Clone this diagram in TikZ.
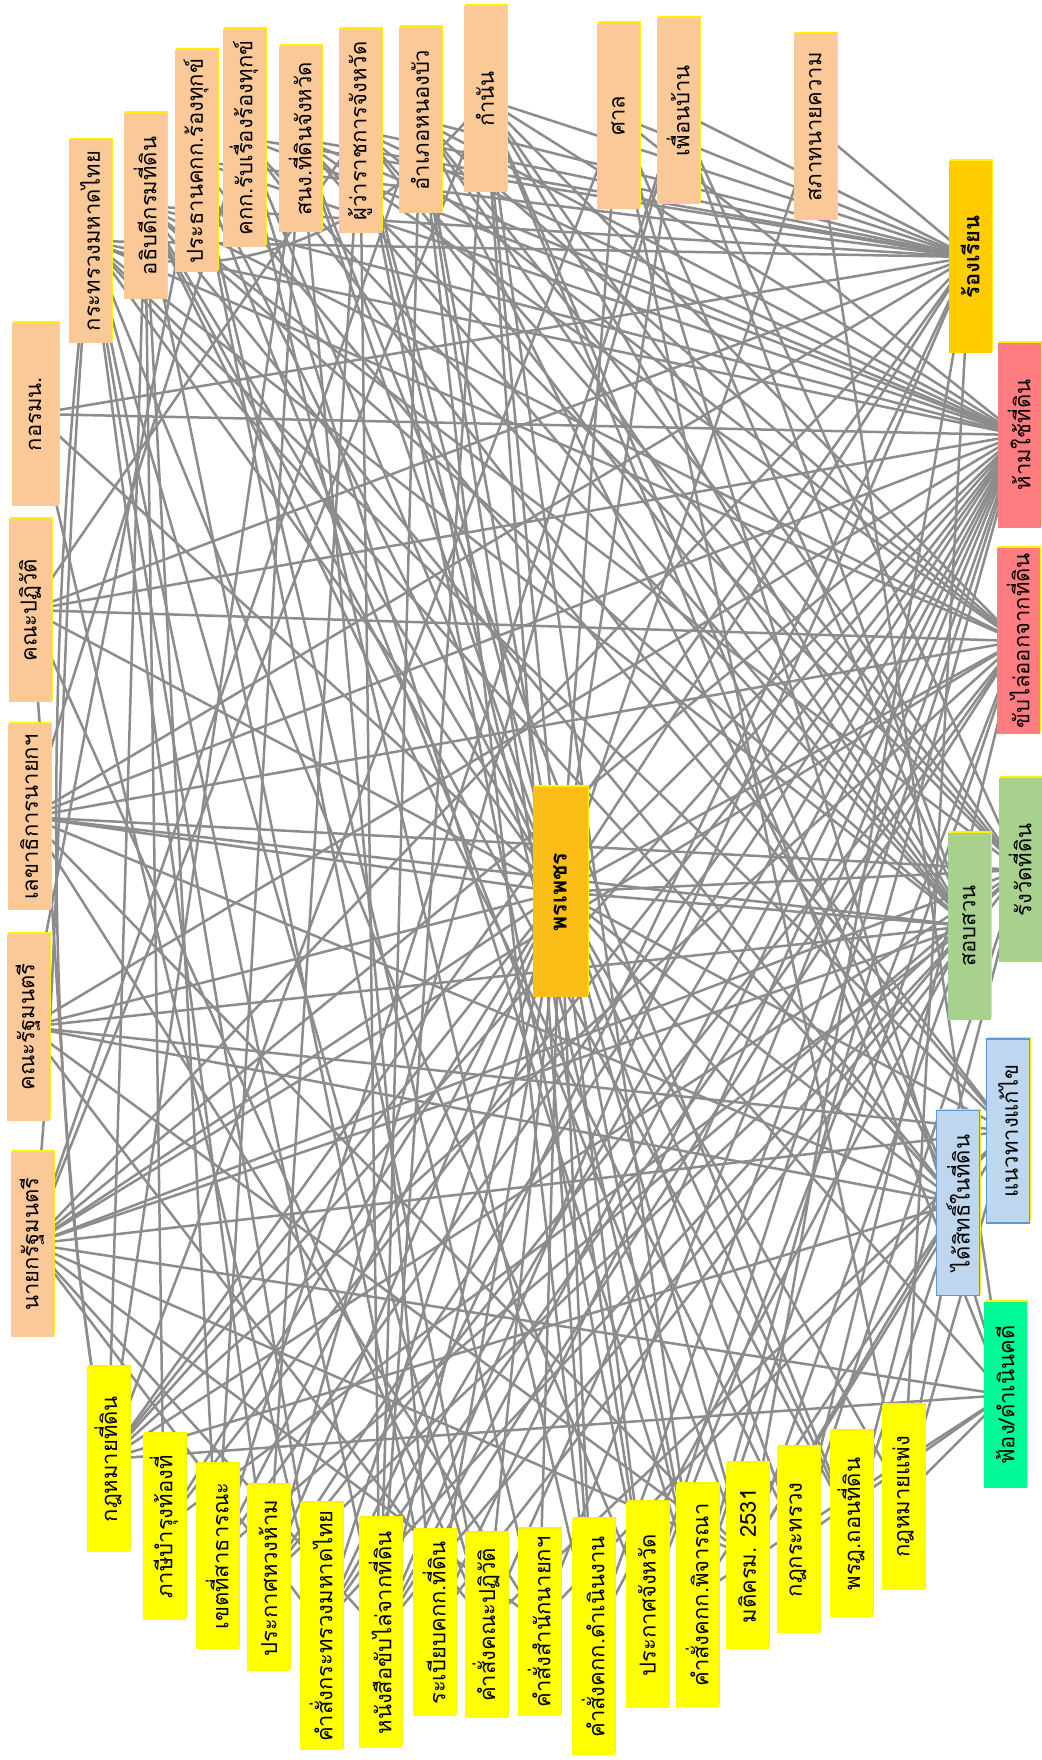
\documentclass[tikz,border=0pt]{standalone}
\usepackage{fontspec}
\newfontfamily\thaifont[Script=Thai]{Loma}
\usetikzlibrary{shadows}
\definecolor{peach}{RGB}{251,201,151}
\definecolor{ylw}{RGB}{255,255,0}
\definecolor{goldc}{RGB}{255,204,0}
\definecolor{centc}{RGB}{250,190,22}
\definecolor{salmon}{RGB}{255,124,128}
\definecolor{lgreen}{RGB}{169,209,142}
\definecolor{lblue}{RGB}{190,214,238}
\definecolor{bblue}{RGB}{91,155,213}
\definecolor{sgreen}{RGB}{0,250,150}
\definecolor{edgec}{RGB}{140,140,140}
\pgfdeclarelayer{bg}
\pgfsetlayers{bg,main}
\tikzset{
  nbox/.style={rectangle, rotate=90, minimum height=43pt, minimum width=#1, inner sep=0pt,
    font=\thaifont\fontsize{22}{24}\selectfont, text=black,
    drop shadow={shadow xshift=1.6pt, shadow yshift=1.6pt, fill=yellow, opacity=1}},
  nbox/.default=186pt,
  orng/.style={nbox=#1, fill=peach}, orng/.default=186pt,
  ybox/.style={nbox=#1, fill=ylw}, ybox/.default=186pt,
  redb/.style={nbox=#1, fill=salmon}, redb/.default=186pt,
  grnb/.style={nbox=#1, fill=lgreen}, grnb/.default=186pt,
  blub/.style={nbox=#1, fill=lblue, draw=bblue, line width=1.2pt}, blub/.default=186pt,
  edge/.style={draw=edgec, line width=2.5pt},
}
\begin{document}
\begin{tikzpicture}[x=1pt,y=-1pt]
\useasboundingbox (0,0) rectangle (1041,1760);
% left column
\node[orng=183pt, minimum height=47pt] (L1) at (35,414) {กอรมน.};
\node[orng=183pt] (L2) at (30,610) {คณะปฏิวัติ};
\node[orng=186pt] (L3) at (29,817) {เลขาธิการนายกฯ};
\node[orng=187pt] (L4) at (28,1027) {คณะรัฐมนตรี};
\node[orng=185pt] (L5) at (32,1244) {นายกรัฐมนตรี};
% top row
\node[orng=203pt] (T1) at (90,241) {กระทรวงมหาดไทย};
\node[orng=186pt] (T2) at (145,206) {อธิบดีกรมที่ดิน};
\node[orng=222pt] (T3) at (196,161) {ประธานคกก.ร้องทุกข์};
\node[orng=218pt] (T4) at (244,138) {คกก.รับเรื่องร้องทุกข์};
\node[orng=186pt] (T5) at (300,139) {สนง.ที่ดินจังหวัด};
\node[orng=204pt] (T6) at (360,131) {ผู้ว่าราชการจังหวัด};
\node[orng=186pt] (T7) at (420,120) {อำเภอหนองบัว};
\node[orng=186pt] (T8) at (485,99) {กำนัน};
\node[orng=186pt] (T9) at (618,116) {ศาล};
\node[orng=186pt] (T10) at (678,111) {เพื่อนบ้าน};
\node[orng=187pt] (T11) at (815,127) {สภาทนายความ};
% right column
\node[nbox=192pt, fill=goldc, font=\thaifont\bfseries\fontsize{22}{24}\selectfont] (R1) at (970,257) {ร้องเรียน};
\node[redb=185pt] (R2) at (1019,435) {ห้ามใช้ที่ดิน};
\node[redb=186pt] (R3) at (1018,641) {ขับไล่ออกจากที่ดิน};
\node[grnb=184pt] (R4) at (1020,870) {รังวัดที่ดิน};
\node[grnb=187pt] (R5) at (969,926) {สอบสวน};
\node[blub=184pt] (R6) at (1008,1131) {แนวทางแก้ไข};
\node[blub=185pt] (R7) at (958,1203) {ได้สิทธิ์ในที่ดิน};
\node[nbox=186pt, fill=sgreen] (R8) at (1005,1395) {ฟ้อง/ดำเนินคดี};
% bottom row
\node[ybox=185pt] (B1) at (108,1459) {กฎหมายที่ดิน};
\node[ybox=186pt] (B2) at (164,1527) {ภาษีบำรุงท้องที่};
\node[ybox=185pt] (B3) at (217,1556) {เขตที่สาธารณะ};
\node[ybox=186pt] (B4) at (268,1578) {ประกาศหวงห้าม};
\node[ybox=247pt] (B5) at (321,1626) {คำสั่งกระทรวงมหาดไทย};
\node[ybox=230pt] (B6) at (380,1633) {หนังสือขับไล่จากที่ดิน};
\node[ybox=186pt] (B7) at (434,1623) {ระเบียบคกก.ที่ดิน};
\node[ybox=185pt] (B8) at (486,1625) {คำสั่งคณะปฏิวัติ};
\node[ybox=187pt] (B9) at (539,1622) {คำสั่งสำนักนายกฯ};
\node[ybox=236pt] (B10) at (593,1637) {คำสั่งคกก.ดำเนินงาน};
\node[ybox=206pt] (B11) at (647,1605) {ประกาศจังหวัด};
\node[ybox=223pt] (B12) at (697,1595) {คำสั่งคกก.พิจารณา};
\node[ybox=186pt] (B13) at (747,1556) {มติครม. 2531};
\node[ybox=186pt] (B14) at (798,1540) {กฎกระทรวง};
\node[ybox=186pt] (B15) at (851,1524) {พรฎ.ถอนที่ดิน};
\node[ybox=185pt] (B16) at (903,1497) {กฎหมายแพ่ง};
% centre
\node[nbox=210pt, minimum height=55pt, fill=centc, drop shadow={opacity=0},
  font=\thaifont\bfseries\fontsize{23}{25}\selectfont] (C) at (560,892) {พรเพชร};
\begin{pgfonlayer}{bg}
\fill[white] (0,0) rectangle (1041,1760);
\foreach \b in {L1,L2,L3,L4,L5,T1,T2,T3,T4,T5,T6,T7,T8,T9,T10,T11,R1,R2,R3,R4,R5,R6,R7,R8,B1,B2,B3,B4,B5,B6,B7,B8,B9,B10,B11,B12,B13,B14,B15,B16}
  \draw[edge] (C.center) -- (\b.center);
\foreach \a/\b in {R1/T1,R1/T2,R1/T3,R1/T4,R1/T5,R1/T6,R1/T7,R1/T8,R1/T9,R1/T10,R1/T11,R1/L1,R1/L2,R1/L3,R1/L5,R1/B1,R1/B5,R1/B6,R1/B13,R1/B16,
  R2/T1,R2/T2,R2/T3,R2/T4,R2/T5,R2/T6,R2/T7,R2/T8,R2/T9,R2/L1,R2/L2,R2/L3,R2/L4,R2/L5,R2/B1,R2/B2,R2/B3,R2/B4,R2/B5,R2/B6,R2/B7,R2/B8,R2/B9,R2/B10,R2/B11,R2/B12,
  R3/T1,R3/T2,R3/T5,R3/T6,R3/T7,R3/T8,R3/L2,R3/L3,R3/L5,R3/B1,R3/B4,R3/B5,R3/B6,R3/B11,R3/B12,R3/B14,
  R4/T2,R4/T5,R4/T6,R4/T7,R4/T8,R4/T10,R4/L3,R4/L5,R4/B1,R4/B3,R4/B4,R4/B7,R4/B14,R4/B15,
  R5/T1,R5/T2,R5/T4,R5/T5,R5/T6,R5/T7,R5/T8,R5/T9,R5/T10,R5/L3,R5/L4,R5/L5,R5/B2,R5/B5,R5/B6,R5/B10,R5/B13,
  R6/T1,R6/T3,R6/T4,R6/L4,R6/L5,R6/B8,R6/B9,R6/B13,R6/B16,
  R7/T1,R7/T2,R7/T7,R7/T8,R7/L3,R7/L4,R7/B1,R7/B12,R7/B13,R7/B15,R7/B16,
  R8/T8,R8/T9,R8/T11,R8/L5,R8/B1,R8/B12,R8/B14,R8/B16,
  T1/B4,T1/B5,T1/B6,T1/B8,T1/B11,T2/B1,T2/B2,T2/B3,T2/B7,T2/B14,T2/B15,T3/B8,T3/B9,T3/B13,T3/L4,
  T4/B10,T4/B12,T4/L3,T5/B1,T5/B3,T5/B7,T5/B15,T6/B4,T6/B6,T6/B11,T6/B12,T7/B6,T7/B10,T7/B11,T7/L5,
  T8/B6,T8/B10,T8/B12,T8/L5,T9/B16,T9/B1,T10/B3,T10/B4,
  L1/B5,L2/B8,L2/T6,L3/B9,L3/B13,L4/B13,L4/B8,L5/B5,L5/B6,L5/B9,L5/B13}
  \draw[edge] (\a.center) -- (\b.center);
\draw[edge] (T1.center) .. controls (58,600) and (62,1000) .. (L5.center);
\draw[edge] (T1.center) .. controls (40,650) and (45,1150) .. (B1.center);
\draw[edge] (L2.center) .. controls (58,900) and (62,1250) .. (B1.center);
\draw[edge] (T1.center) .. controls (220,300) and (380,230) .. (T8.center);
\end{pgfonlayer}
\end{tikzpicture}
\end{document}
